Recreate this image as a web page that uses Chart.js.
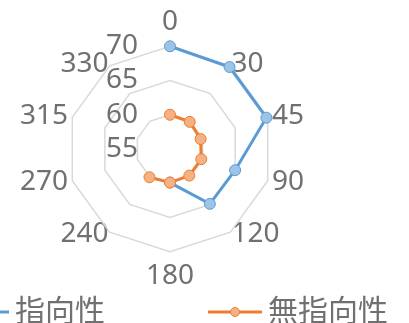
<!DOCTYPE html>
<html>
<head>
<meta charset="utf-8">
<script src="https://cdn.jsdelivr.net/npm/chart.js@4.4.1/dist/chart.umd.min.js"></script>
<style>
    html, body { margin: 0; padding: 0; background: #fff; }
    #wrap { position: relative; width: 409px; height: 323px; overflow: hidden; }
    #radarChart { position: absolute; left: -148px; top: 0; }
</style>
</head>
<body>
<div id="wrap">
    <canvas id="radarChart" width="636" height="337"></canvas>
</div>
<script>
// Angle categories (degrees)
const angles = ['0', '30', '45', '90', '120', '180', '240', '270', '315', '330'];

// Series values, empty cells left as null
const directional = [70, 69.8, 69.8, 65, 64.9, 59.9, null, null, null, null];
const omni = [60, 59.9, 59.7, 59.8, 59.8, 59.9, 60.1, null, null, null];

// Radial axis
const axisMin = 55;
const axisMax = 70;
const axisStep = 5;

const GREY = '#707070';
const BLUE = '#5b9bd5';
const BLUE_FILL = '#9dc3e6';
const ORANGE = '#ed7d31';
const ORANGE_FILL = '#f4b183';

let radarChart;

// Legend symbol: line with a marker, sitting at the right end of the box
function legendSample(lineColor, fillColor) {
    const c = document.createElement('canvas');
    c.width = 146;
    c.height = 14;
    const g = c.getContext('2d');
    g.strokeStyle = lineColor;
    g.lineWidth = 3;
    g.beginPath();
    g.moveTo(92, 7);
    g.lineTo(146, 7);
    g.stroke();
    g.beginPath();
    g.arc(119, 7, 4.5, 0, Math.PI * 2);
    g.fillStyle = fillColor;
    g.fill();
    g.lineWidth = 1;
    g.stroke();
    return c;
}

// Point label distance: top/bottom further out, sides tucked in
function labelPadding(ctx) {
    const i = ctx.index;
    if (i === 0 || i === 5) return 10;
    if (i === 2 || i === 3 || i === 7 || i === 8) return -9.5;
    return -12;
}

function createRadarChart() {
    const ctx = document.getElementById('radarChart').getContext('2d');
    const samples = [legendSample(BLUE, BLUE_FILL), legendSample(ORANGE, ORANGE_FILL)];

    Chart.defaults.font.family = "'Noto Sans', 'Noto Sans CJK JP', sans-serif";

    radarChart = new Chart(ctx, {
        type: 'radar',
        data: {
            labels: angles,
            datasets: [{
                label: '指向性',
                data: directional,
                borderColor: BLUE,
                backgroundColor: BLUE_FILL,
                pointBackgroundColor: BLUE_FILL,
                pointBorderColor: BLUE,
                borderWidth: 3,
                pointRadius: 5.5,
                pointBorderWidth: 1,
                fill: false,
                order: 1
            }, {
                label: '無指向性',
                data: omni,
                borderColor: ORANGE,
                backgroundColor: ORANGE_FILL,
                pointBackgroundColor: ORANGE_FILL,
                pointBorderColor: ORANGE,
                borderWidth: 3,
                pointRadius: 5.5,
                pointBorderWidth: 1,
                fill: false,
                order: 0
            }]
        },
        options: {
            responsive: false,
            animation: false,
            layout: {
                padding: { top: 22 }
            },
            scales: {
                r: {
                    min: axisMin,
                    max: axisMax,
                    angleLines: { display: false },
                    grid: { color: '#d9d9d9', lineWidth: 1.5 },
                    // the first tick label is never drawn, so repeat the minimum
                    afterBuildTicks: (scale) => {
                        scale.ticks = [{ value: axisMin }].concat(scale.ticks);
                    },
                    ticks: {
                        stepSize: axisStep,
                        color: GREY,
                        font: { size: 28 },
                        showLabelBackdrop: false,
                        backdropPadding: 0,
                        callback: (value) => value + '\u2007'.repeat(6)
                    },
                    pointLabels: {
                        color: GREY,
                        font: { size: 28, lineHeight: 0.01 },
                        padding: labelPadding
                    }
                }
            },
            plugins: {
                tooltip: { enabled: false },
                legend: {
                    position: 'bottom',
                    align: 'start',
                    labels: {
                        usePointStyle: true,
                        pointStyleWidth: 128,
                        padding: 20,
                        color: GREY,
                        font: { size: 30 },
                        sort: (a, b) => a.datasetIndex - b.datasetIndex,
                        generateLabels: (chart) => {
                            const items = Chart.defaults.plugins.legend.labels.generateLabels(chart);
                            return items.map(item => {
                                item.pointStyle = samples[item.datasetIndex];
                                return item;
                            });
                        }
                    }
                }
            }
        }
    });
}

// Initialize
document.addEventListener('DOMContentLoaded', () => {
    createRadarChart();
});
</script>
</body>
</html>
